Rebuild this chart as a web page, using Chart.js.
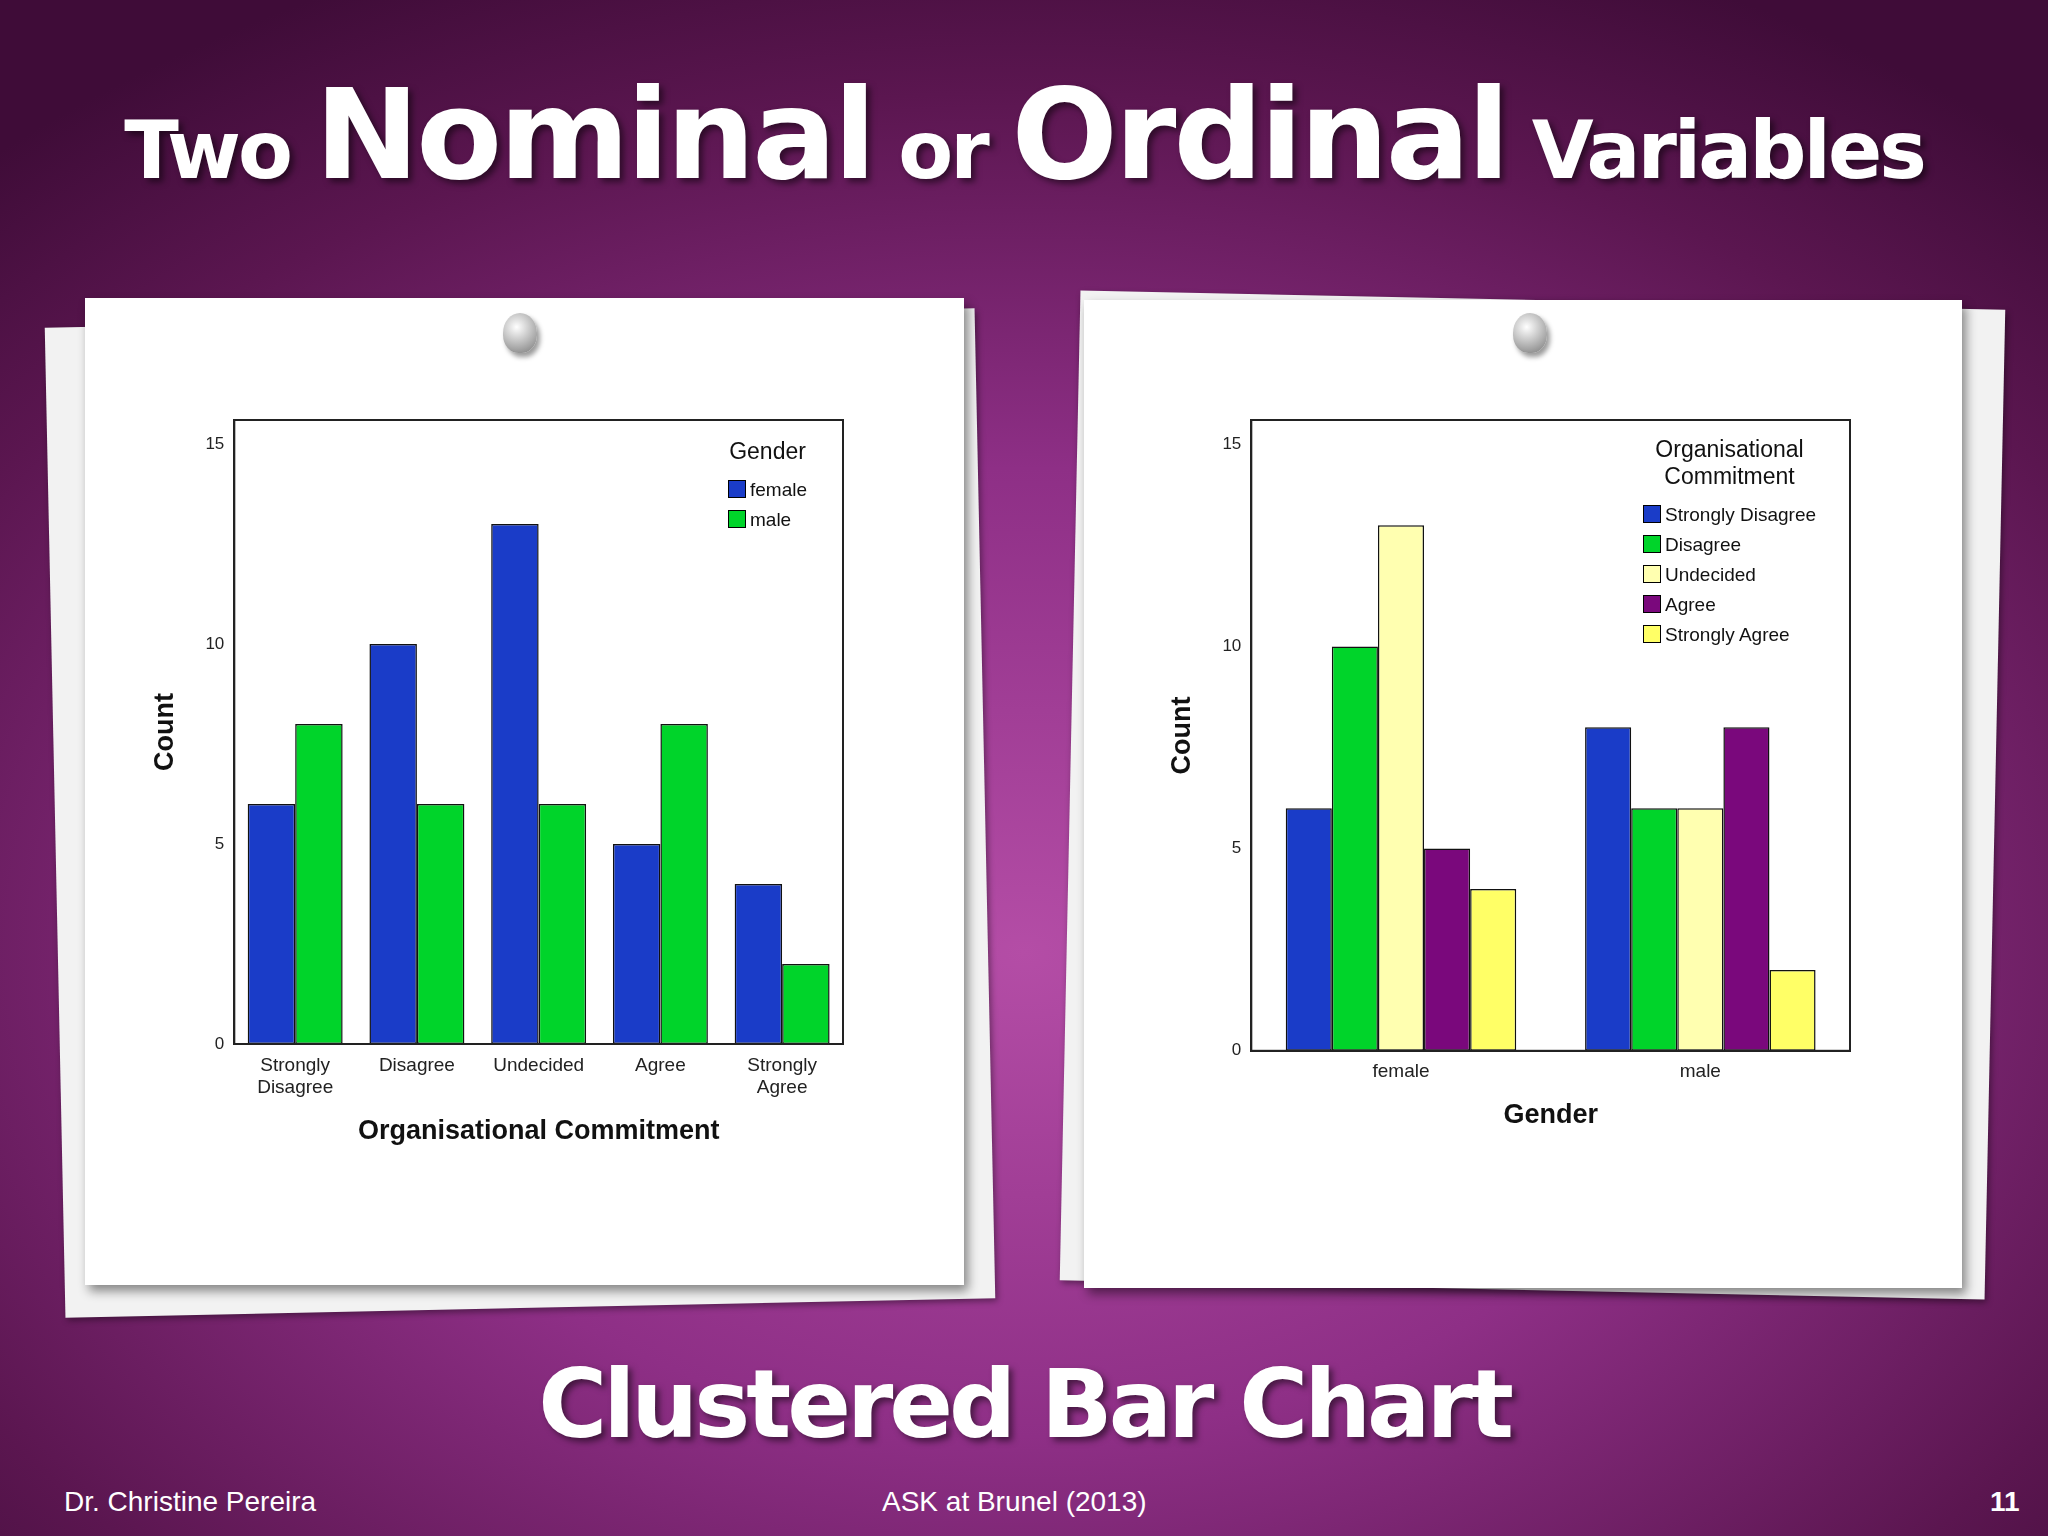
<!DOCTYPE html>
<html><head><meta charset="utf-8">
<script src="https://cdn.jsdelivr.net/npm/chart.js@4"></script>
<style>
body{margin:0;width:2048px;height:1536px;overflow:hidden;font-family:"Liberation Sans",Arial,sans-serif;
 background:radial-gradient(ellipse 75% 70% at 50% 62%,#b44da6 0%,#8e2f86 45%,#5b1650 80%,#3f0c38 100%);position:relative}
.title{position:absolute;left:0;width:2048px;text-align:center;color:#fff;font-family:"DejaVu Sans",sans-serif;font-weight:900;text-shadow:4px 4px 6px rgba(0,0,0,.5);white-space:nowrap}
.card{position:absolute;background:#fff;box-shadow:4px 6px 10px rgba(0,0,0,.45)}
.back{position:absolute;background:#f2f2f2;box-shadow:2px 3px 6px rgba(0,0,0,.4)}
.pin{position:absolute;width:34px;height:40px;border-radius:50% 50% 45% 45%;background:radial-gradient(circle at 40% 35%,#fff,#bbb 50%,#777);box-shadow:3px 4px 5px rgba(0,0,0,.4)}
.box{position:absolute}
.leg{position:absolute;font-size:19px;color:#111;line-height:30px}
.leg .h{text-align:center;font-size:23px;line-height:27px;margin-bottom:10px}
.leg span.sw{display:inline-block;width:16px;height:16px;border:1.5px solid #000;vertical-align:-2px;margin-right:4px}
.foot{position:absolute;color:#fff;font-size:28px;top:1486px}
</style></head><body>
<div class="title" style="top:62px;font-size:125px;letter-spacing:-3px"><span style="font-size:80px">Two </span>Nominal<span style="font-size:80px"> or </span>Ordinal<span style="font-size:80px"> Variables</span></div>

<div class="back" style="left:55px;top:318px;width:930px;height:990px;transform:rotate(-1.2deg)"></div>
<div class="card" style="left:85px;top:298px;width:879px;height:987px"></div>
<div class="back" style="left:1070px;top:300px;width:925px;height:990px;transform:rotate(1.2deg)"></div>
<div class="card" style="left:1084px;top:300px;width:878px;height:988px"></div>
<div class="pin" style="left:503px;top:313px"></div>
<div class="pin" style="left:1513px;top:313px"></div>

<div class="box" style="left:145px;top:400px;width:718px;height:752px"><canvas id="c1"></canvas></div>
<div class="box" style="left:1162px;top:400px;width:708px;height:736px"><canvas id="c2"></canvas></div>
<div class="leg" id="l1" style="left:728px;top:438px"></div>
<div class="leg" id="l2" style="left:1643px;top:436px"></div>

<div class="title" style="top:1350px;font-size:94px;letter-spacing:-4px">Clustered Bar Chart</div>
<div class="foot" style="left:64px">Dr. Christine Pereira</div>
<div class="foot" style="left:882px">ASK at Brunel (2013)</div>
<div class="foot" style="left:1990px;font-weight:bold">11</div>

<script>
const commitLabels = [['Strongly','Disagree'],'Disagree','Undecided','Agree',['Strongly','Agree']];
const commitNames = ['Strongly Disagree','Disagree','Undecided','Agree','Strongly Agree'];
const commitColors = ['#1a3cc8','#00d42a','#ffffb0','#7a087c','#ffff66'];
const genders = ['female','male'];
const genderColors = ['#1a3cc8','#00d42a'];
const femaleCounts = [6,10,13,5,4];
const maleCounts = [8,6,6,8,2];
const yTicks = [0,5,10,15];

const frame = {id:'frame',afterDraw(c){const a=c.chartArea,x=c.ctx;x.save();x.strokeStyle='#222';x.lineWidth=2;x.strokeRect(a.left,a.top,a.right-a.left,a.bottom-a.top);x.restore();}};
const font = {family:'"Liberation Sans",Arial,sans-serif'};
function opts(xTitle,catPct){
  return {responsive:true,maintainAspectRatio:false,animation:false,
    layout:{padding:{top:20,right:20}},
    plugins:{legend:{display:false},tooltip:{enabled:false}},
    datasets:{bar:{categoryPercentage:catPct,barPercentage:1,borderColor:'#111',borderWidth:1.5,borderSkipped:false}},
    scales:{
      x:{grid:{display:false,drawTicks:true},border:{color:'#222',width:2},
         ticks:{color:'#222',font:{...font,size:19},maxRotation:0,padding:2,lineHeight:1},
         title:{display:true,text:xTitle,color:'#111',font:{...font,size:27,weight:'bold'},padding:{top:14}}},
      y:{min:0,max:15.6,grid:{display:false,drawTicks:true,tickLength:8},border:{color:'#222',width:2},
         afterBuildTicks(s){s.ticks=yTicks.map(v=>({value:v}));},
         ticks:{color:'#222',font:{...font,size:17},padding:2},
         title:{display:true,text:'Count',color:'#111',font:{...font,size:27,weight:'bold'},padding:{bottom:22}}}
    }};
}
new Chart(document.getElementById('c1'),{type:'bar',plugins:[frame],
  data:{labels:commitLabels,datasets:[
    {label:'female',data:femaleCounts,backgroundColor:genderColors[0]},
    {label:'male',data:maleCounts,backgroundColor:genderColors[1]}]},
  options:opts('Organisational Commitment',0.78)});
const byGender = commitNames.map((n,i)=>({label:n,data:[femaleCounts[i],maleCounts[i]],backgroundColor:commitColors[i]}));
new Chart(document.getElementById('c2'),{type:'bar',plugins:[frame],
  data:{labels:genders,datasets:byGender},
  options:opts('Gender',0.77)});

function legend(el,head,names,cols){
  let h='<div class="h">'+head+'</div>';
  names.forEach((n,i)=>h+='<div><span class="sw" style="background:'+cols[i]+'"></span>'+n+'</div>');
  document.getElementById(el).innerHTML=h;
}
legend('l1','Gender',genders,genderColors);
legend('l2','Organisational<br>Commitment',commitNames,commitColors);
</script>
</body></html>
